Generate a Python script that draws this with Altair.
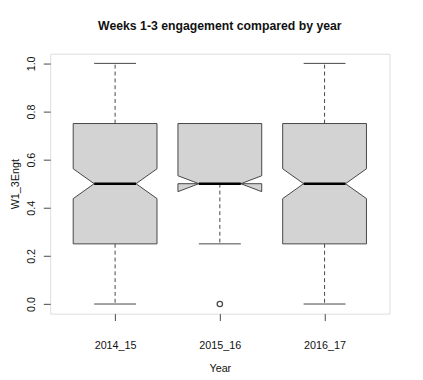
import json
import altair as alt
import pandas as pd

# ---- data ----
years = ["2014_15", "2015_16", "2016_17"]
positions = [1, 2, 3]
q1 = [0.25, 0.50, 0.25]
median = [0.50, 0.50, 0.50]
q3 = [0.75, 0.75, 0.75]
whisk_lo = [0.00, 0.25, 0.00]
whisk_hi = [1.00, 0.75, 1.00]
notch_lo = [0.438, 0.467, 0.438]
notch_hi = [0.562, 0.533, 0.562]
outlier_year = ["2015_16"]
outlier_value = [0.0]

# ---- style constants ----
HALF = 0.4     # box half width
NF = 0.5       # notch fraction
STAPLE = 0.2   # whisker cap half width
W, H = 346, 265
FONT = "Liberation Sans"

stats = pd.DataFrame({
    "year": years, "pos": positions, "q1": q1, "med": median, "q3": q3,
    "lo": whisk_lo, "hi": whisk_hi, "nlo": notch_lo, "nhi": notch_hi,
})

# closed polygon (notched box) outline, in R's bxp vertex order
rows = []
for _, r in stats.iterrows():
    left = [(r.q1, -HALF), (r.nlo, -HALF), (r.med, -HALF * NF), (r.nhi, -HALF), (r.q3, -HALF)]
    right = [(r.q3, HALF), (r.nhi, HALF), (r.med, HALF * NF), (r.nlo, HALF), (r.q1, HALF)]
    pts = left + right + [left[0]]
    for k, (yv, dx) in enumerate(pts):
        rows.append({"year": r.year, "k": k, "y": yv, "x": r.pos + dx})
poly = pd.DataFrame(rows)

pos_of = dict(zip(years, positions))
outl = pd.DataFrame({"year": outlier_year, "value": outlier_value,
                     "pos": [pos_of[y] for y in outlier_year]})

label_expr = json.dumps(years) + "[datum.value - 1]"

xscale = alt.Scale(domain=[0.38, 3.62], nice=False, zero=False)
yscale = alt.Scale(domain=[-0.04, 1.04], nice=False, zero=False)

xaxis = alt.Axis(values=positions, labelExpr=label_expr, title="Year", grid=False,
                 domain=False, tickSize=7, tickColor="#444", labelPadding=20,
                 labelFontSize=11, labelFont=FONT, labelColor="#111",
                 titleFont=FONT, titleFontSize=11, titleFontWeight="normal",
                 titleColor="#111", titleX=W / 2, titleY=56, titleAlign="center",
                 titleBaseline="middle")
yaxis = alt.Axis(values=[0, 0.2, 0.4, 0.6, 0.8, 1.0], format=".1f", title="W1_3Engt",
                 grid=False, domain=False, tickSize=7, tickColor="#444",
                 labelAngle=270, labelAlign="center", labelBaseline="bottom",
                 labelPadding=7, labelFontSize=11, labelFont=FONT, labelColor="#111",
                 titleFont=FONT, titleFontSize=11, titleFontWeight="normal",
                 titleColor="#111", titleAngle=270, titleX=-32, titleY=H / 2,
                 titleAlign="center", titleBaseline="alphabetic")

base = alt.Chart(stats)

whisk_up = base.mark_rule(color="#444", strokeDash=[4, 3], strokeWidth=1).encode(
    x=alt.X("pos:Q", scale=xscale, axis=xaxis),
    y=alt.Y("q3:Q", scale=yscale, axis=yaxis),
    y2="hi:Q",
)
whisk_dn = base.mark_rule(color="#444", strokeDash=[4, 3], strokeWidth=1).encode(
    x="pos:Q", y="q1:Q", y2="lo:Q")

caps_hi = base.transform_calculate(
    cl=f"datum.pos - {STAPLE}", cr=f"datum.pos + {STAPLE}"
).mark_rule(color="#444", strokeWidth=1).encode(x="cl:Q", x2="cr:Q", y="hi:Q")
caps_lo = base.transform_calculate(
    cl=f"datum.pos - {STAPLE}", cr=f"datum.pos + {STAPLE}"
).mark_rule(color="#444", strokeWidth=1).encode(x="cl:Q", x2="cr:Q", y="lo:Q")

boxes = alt.Chart(poly).mark_line(
    fill="#d3d3d3", stroke="#444", strokeWidth=1, interpolate="linear-closed"
).encode(
    x="x:Q", y="y:Q", order="k:Q", detail="year:N"
)

med_line = base.transform_calculate(
    ml=f"datum.pos - {HALF * NF}", mr=f"datum.pos + {HALF * NF}"
).mark_rule(color="black", strokeWidth=2.5).encode(x="ml:Q", x2="mr:Q", y="med:Q")

outs = alt.Chart(outl).mark_point(
    shape="circle", filled=False, color="black", size=30, strokeWidth=1.3
).encode(x="pos:Q", y="value:Q")

chart = alt.layer(whisk_up, whisk_dn, caps_hi, caps_lo, boxes, med_line, outs).properties(
    width=W, height=H,
    title=alt.TitleParams("Weeks 1-3 engagement compared by year", font=FONT,
                          fontSize=12.5, fontWeight="bold", color="#111",
                          anchor="middle", offset=22),
    autosize=alt.AutoSizeParams(type="none"),
    padding={"left": 43, "top": 43, "right": 26, "bottom": 64},
).configure_view(stroke="#444", strokeWidth=1).configure(background="white")

chart.save("out.html", embed_options={"renderer": "svg", "actions": False})
